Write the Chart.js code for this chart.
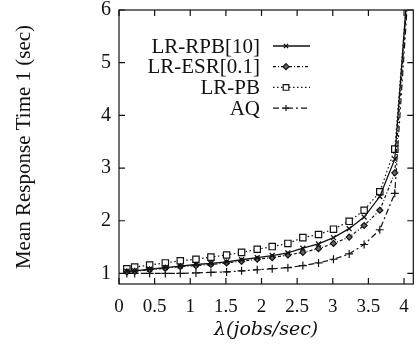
<!DOCTYPE html>
<html>
<head>
<meta charset="utf-8">
<script src="https://cdn.jsdelivr.net/npm/chart.js@4/dist/chart.umd.min.js"></script>
<style>
  html, body { margin: 0; padding: 0; background: #fff; }
  #wrap { width: 419px; height: 355px; position: relative; }
</style>
</head>
<body>
<div id="wrap"><canvas id="c" width="419" height="355"></canvas></div>
<script>
// ---- data ----
const lambda = [0.11, 0.22, 0.43, 0.65, 0.86, 1.08, 1.29, 1.51, 1.72, 1.94, 2.15, 2.37, 2.58, 2.80, 3.01, 3.23, 3.44, 3.66, 3.87, 4.09];
const lrRpb10 = [1.04, 1.05, 1.08, 1.11, 1.14, 1.17, 1.19, 1.22, 1.26, 1.30, 1.34, 1.39, 1.48, 1.56, 1.68, 1.85, 2.07, 2.46, 3.17, 7.2];
const lrEsr01 = [1.03, 1.04, 1.07, 1.10, 1.13, 1.15, 1.17, 1.20, 1.23, 1.27, 1.30, 1.35, 1.40, 1.47, 1.57, 1.69, 1.91, 2.20, 2.91, 7.1];
const lrPb = [1.09, 1.12, 1.16, 1.20, 1.24, 1.27, 1.31, 1.35, 1.40, 1.46, 1.51, 1.57, 1.68, 1.74, 1.84, 1.99, 2.20, 2.55, 3.36, 7.1];
const aq = [1.00, 1.00, 1.00, 1.00, 1.00, 1.01, 1.02, 1.03, 1.05, 1.07, 1.09, 1.11, 1.15, 1.20, 1.27, 1.37, 1.55, 1.83, 2.52, 7.0];
const seriesNames = ['LR-RPB[10]', 'LR-ESR[0.1]', 'LR-PB', 'AQ'];
const xTicks = [0, 0.5, 1, 1.5, 2, 2.5, 3, 3.5, 4];
const yTicks = [1, 2, 3, 4, 5, 6];
const xTitle = 'λ(jobs/sec)';
const yTitle = 'Mean Response Time 1 (sec)';

const INK = '#111';
const SERIF = '"Liberation Serif", "Times New Roman", serif';

function pts(ys) { return ys.map((y, i) => ({ x: lambda[i], y: y })); }

const datasets = [
  { label: seriesNames[0], data: pts(lrRpb10), borderColor: INK, backgroundColor: INK, borderWidth: 1.3, borderDash: [],
    pointStyle: 'crossRot', pointRadius: 3.5, pointBorderWidth: 1.3, pointBorderColor: INK, pointBackgroundColor: INK },
  { label: seriesNames[1], data: pts(lrEsr01), borderColor: INK, backgroundColor: INK, borderWidth: 1.2, borderDash: [3, 2, 1, 2],
    pointStyle: 'rectRot', pointRadius: 3, pointBorderWidth: 1.2, pointBorderColor: INK, pointBackgroundColor: '#666' },
  { label: seriesNames[2], data: pts(lrPb), borderColor: INK, backgroundColor: '#fff', borderWidth: 1.2, borderDash: [1.5, 2.5],
    pointStyle: 'rect', pointRadius: 4.5, pointBorderWidth: 1.2, pointBorderColor: INK, pointBackgroundColor: '#fff' },
  { label: seriesNames[3], data: pts(aq), borderColor: INK, backgroundColor: INK, borderWidth: 1.2, borderDash: [6, 3, 2, 3],
    pointStyle: 'cross', pointRadius: 4, pointBorderWidth: 1.2, pointBorderColor: INK, pointBackgroundColor: INK }
];

// frame (top/right borders) and inward ticks on all four sides
const framePlugin = {
  id: 'frame',
  afterDraw(chart) {
    const { ctx, chartArea: a, scales } = chart;
    ctx.save();
    ctx.strokeStyle = INK;
    ctx.lineWidth = 1.2;
    ctx.strokeRect(a.left, a.top, a.right - a.left, a.bottom - a.top);
    const len = 6;
    ctx.beginPath();
    scales.x.ticks.forEach(t => {
      const px = scales.x.getPixelForValue(t.value);
      ctx.moveTo(px, a.bottom); ctx.lineTo(px, a.bottom - len);
      ctx.moveTo(px, a.top); ctx.lineTo(px, a.top + len);
    });
    scales.y.ticks.forEach(t => {
      const py = scales.y.getPixelForValue(t.value);
      ctx.moveTo(a.left, py); ctx.lineTo(a.left + len, py);
      ctx.moveTo(a.right, py); ctx.lineTo(a.right - len, py);
    });
    ctx.stroke();
    ctx.restore();
  }
};

// legend inside the plot: text right-aligned, then line sample with marker
const legendPlugin = {
  id: 'innerLegend',
  afterDraw(chart) {
    const { ctx, chartArea: a } = chart;
    const textRight = a.left + 141;
    const lineX0 = a.left + 154, lineX1 = a.left + 191, markX = a.left + 167;
    const y0 = a.top + 36, dy = 20.7;
    ctx.save();
    ctx.font = '21px ' + SERIF;
    ctx.textAlign = 'right';
    ctx.textBaseline = 'middle';
    chart.data.datasets.forEach((ds, i) => {
      const y = y0 + i * dy;
      ctx.fillStyle = INK;
      ctx.fillText(ds.label, textRight, y + 1);
      ctx.strokeStyle = ds.borderColor;
      ctx.lineWidth = ds.borderWidth;
      ctx.setLineDash(ds.borderDash);
      ctx.beginPath(); ctx.moveTo(lineX0, y); ctx.lineTo(lineX1, y); ctx.stroke();
      ctx.setLineDash([]);
      ctx.fillStyle = ds.pointBackgroundColor;
      ctx.strokeStyle = ds.pointBorderColor;
      ctx.lineWidth = ds.pointBorderWidth;
      Chart.helpers.drawPoint(ctx, { pointStyle: ds.pointStyle, radius: ds.pointStyle === 'rect' ? 4 : 3, rotation: 0, borderWidth: ds.pointBorderWidth }, markX, y);
    });
    ctx.restore();
  }
};

function noPad(s) { s.paddingTop = 0; s.paddingBottom = 0; s.paddingLeft = 0; s.paddingRight = 0; }

new Chart(document.getElementById('c'), {
  type: 'line',
  data: { datasets },
  options: {
    responsive: false,
    animation: false,
    devicePixelRatio: 1,
    layout: { padding: { left: 0, right: 4, top: 10, bottom: 0 } },
    plugins: { legend: { display: false }, tooltip: { enabled: false } },
    elements: { line: { tension: 0, fill: false } },
    scales: {
      x: {
        type: 'linear', min: 0, max: 4.13,
        afterBuildTicks: s => { s.ticks = xTicks.map(v => ({ value: v })); },
        afterFit: s => { s.height = 71; noPad(s); },
        grid: { display: false, drawTicks: false },
        border: { display: false },
        ticks: { color: INK, padding: 12, maxRotation: 0, autoSkip: false,
                  font: { family: SERIF, size: 19 }, callback: v => String(v) },
        title: { display: true, text: xTitle, color: INK, padding: { top: 0, bottom: 14 },
                 font: { family: '"DejaVu Serif", serif', size: 19, style: 'italic' } }
      },
      y: {
        type: 'linear', min: 0.8, max: 6,
        afterBuildTicks: s => { s.ticks = yTicks.map(v => ({ value: v })); },
        afterFit: s => { s.width = 119; noPad(s); },
        grid: { display: false, drawTicks: false },
        border: { display: false },
        ticks: { color: INK, padding: 8, autoSkip: false,
                 font: { family: SERIF, size: 20 }, callback: v => String(v) },
        title: { display: true, text: yTitle, color: INK, padding: { top: 12, bottom: 0 },
                 font: { family: SERIF, size: 21 } }
      }
    }
  },
  plugins: [framePlugin, legendPlugin]
});
</script>
</body>
</html>
